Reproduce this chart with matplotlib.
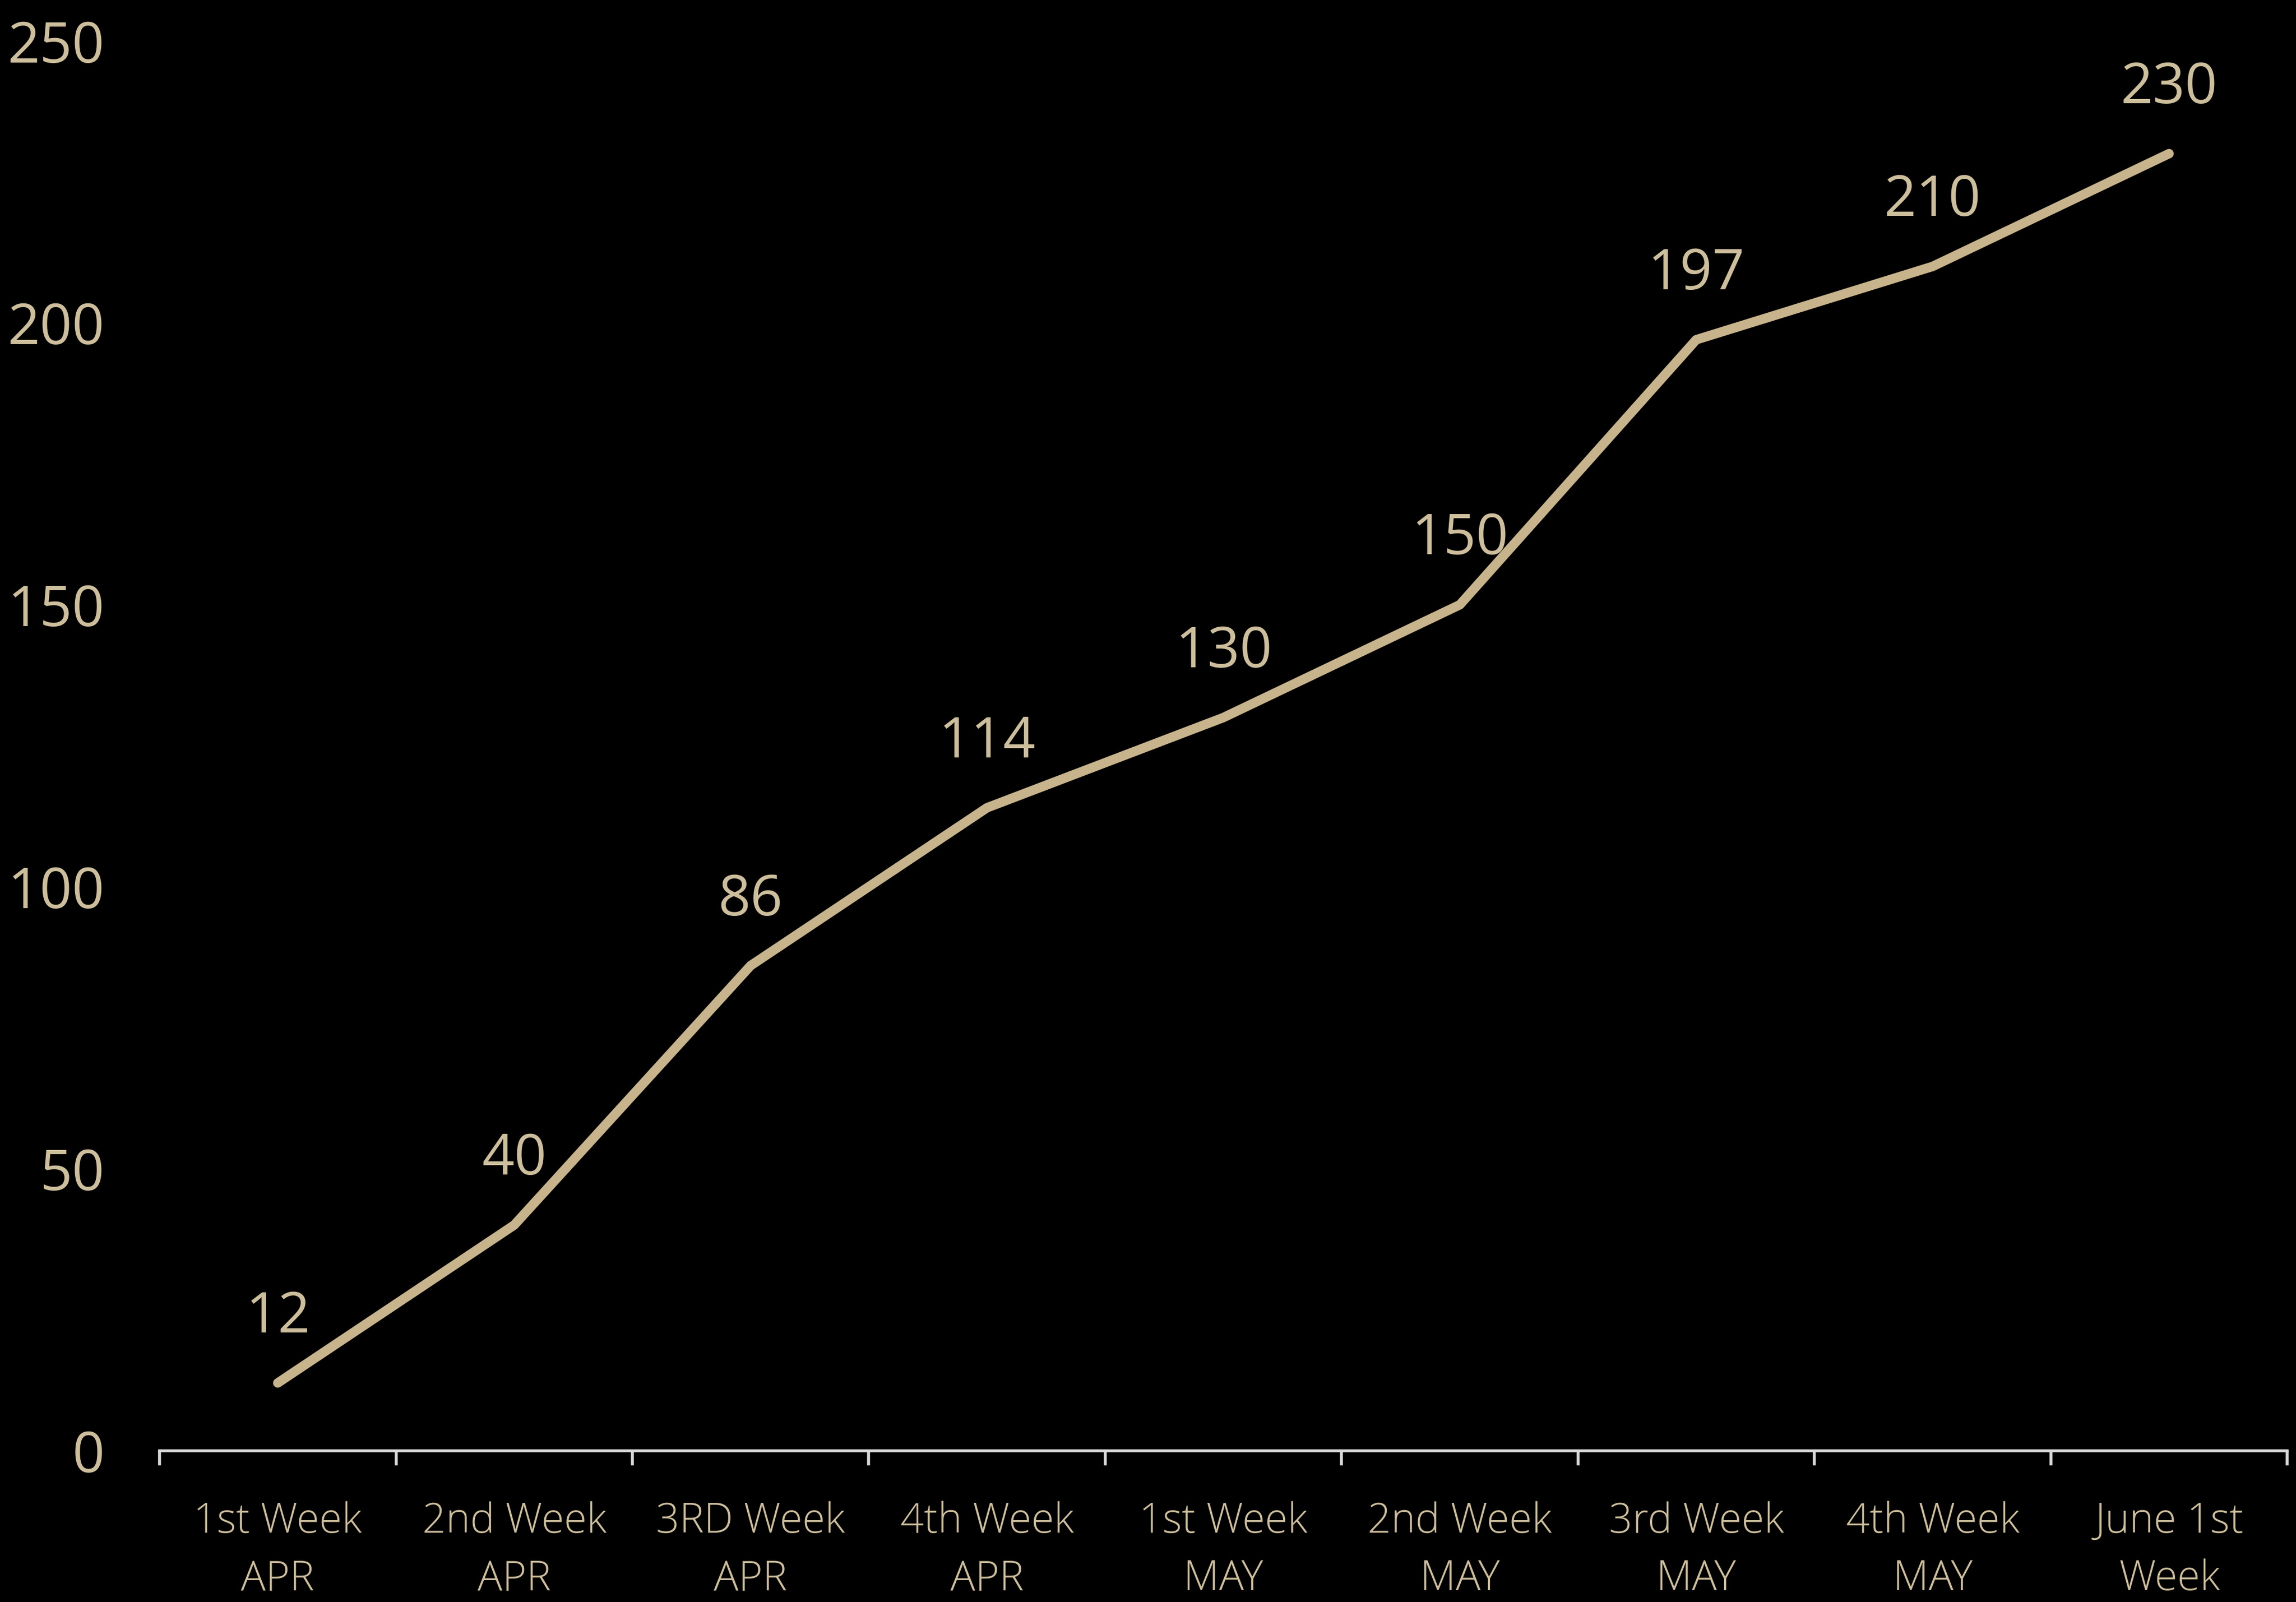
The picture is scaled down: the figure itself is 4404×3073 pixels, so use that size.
import matplotlib
matplotlib.use("Agg")
import matplotlib.pyplot as plt
import numpy as np

categories = ["1st Week\nAPR", "2nd Week\nAPR", "3RD Week\nAPR", "4th Week\nAPR",
              "1st Week\nMAY", "2nd Week\nMAY", "3rd Week\nMAY", "4th Week\nMAY",
              "June 1st\nWeek"]
values = [12, 40, 86, 114, 130, 150, 197, 210, 230]
y_ticks = [0, 50, 100, 150, 200, 250]

LINE = "#C8B48C"
TEXT = "#CDBE9C"
AXIS = "#D9D9D9"

plt.rcParams['font.family'] = ['Open Sans', 'DejaVu Sans']

fig = plt.figure(figsize=(44.04, 30.73), dpi=100, facecolor="black")
ax = fig.add_axes([0.0695, 0.0945, 0.9267, 0.8800])
ax.set_facecolor("black")

x = np.arange(len(categories))
ax.plot(x, values, color=LINE, lw=13, solid_capstyle="round", solid_joinstyle="round")

for xi, v in zip(x, values):
    ax.annotate(str(v), (xi, v), xytext=(0, 90), textcoords="offset points",
                ha="center", va="center", color=TEXT, fontsize=78)

ax.set_xlim(-0.5, len(categories) - 0.5)
ax.set_ylim(0, 250)
ax.set_yticks(y_ticks)
ax.set_yticklabels([str(t) for t in y_ticks])
ax.set_xticks(x)
ax.set_xticklabels(categories, linespacing=1.5, fontweight="light")
ax.set_xticks(np.arange(-0.5, len(categories)), minor=True)

for s in ["top", "right", "left"]:
    ax.spines[s].set_visible(False)
ax.spines["bottom"].set_color(AXIS)
ax.spines["bottom"].set_linewidth(4)

ax.tick_params(axis="x", which="major", length=0, pad=70, labelsize=57, labelcolor=TEXT)
ax.tick_params(axis="x", which="minor", length=20, width=4, color=AXIS, direction="out")
ax.tick_params(axis="y", length=0, pad=76, labelsize=78, labelcolor=TEXT)

fig.savefig("out.png", dpi=100, facecolor="black")
